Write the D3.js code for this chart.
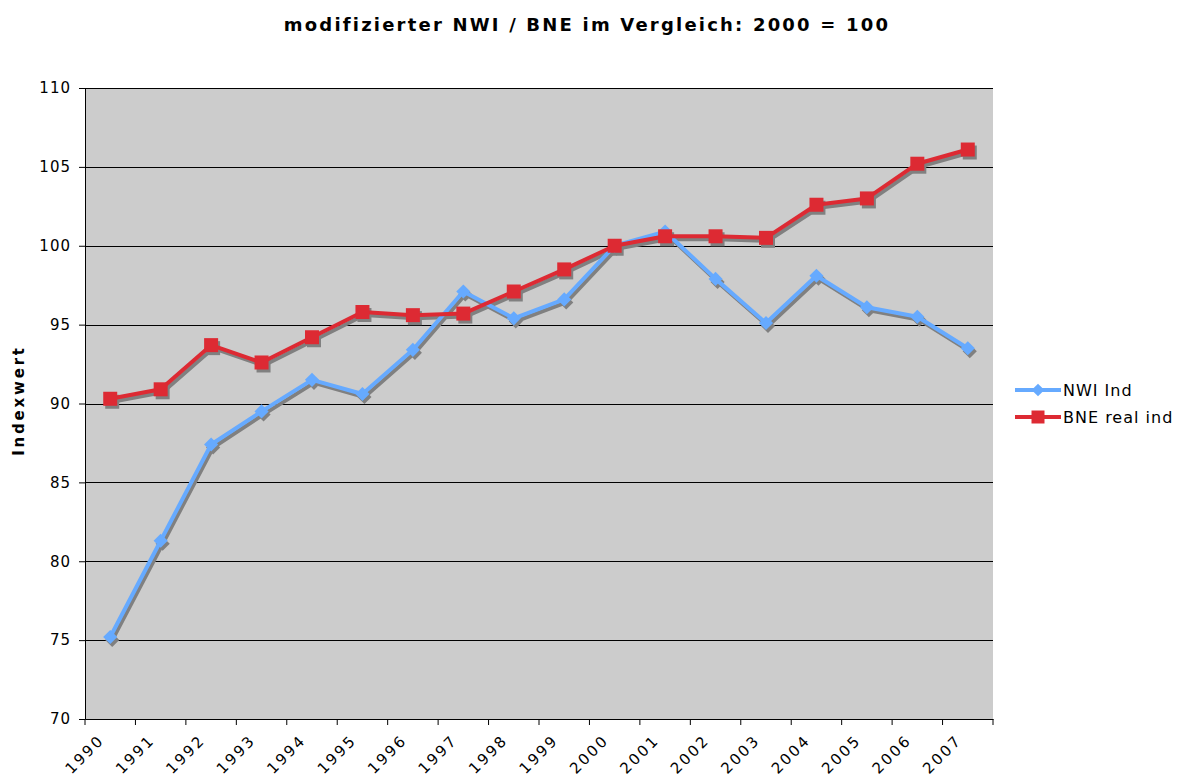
<!DOCTYPE html>
<html>
<head>
<meta charset="utf-8">
<script src="https://cdn.jsdelivr.net/npm/d3@7"></script>
<style>
  body { margin: 0; background: #fff; }
  text { font-family: "DejaVu Sans", Verdana, sans-serif; fill: #000; }
</style>
</head>
<body>
<svg id="chart" width="1179" height="778"></svg>
<script>
var years = ["1990","1991","1992","1993","1994","1995","1996","1997","1998","1999",
             "2000","2001","2002","2003","2004","2005","2006","2007"];
var nwiInd = [75.2, 81.3, 87.4, 89.5, 91.5, 90.6, 93.4, 97.1, 95.4, 96.6,
              100.0, 100.9, 97.9, 95.1, 98.1, 96.1, 95.5, 93.5];
var bneReal = [90.3, 90.9, 93.7, 92.6, 94.2, 95.8, 95.6, 95.7, 97.1, 98.5,
               100.0, 100.6, 100.6, 100.5, 102.6, 103.0, 105.2, 106.1];
var yTicks = [70, 75, 80, 85, 90, 95, 100, 105, 110];

var series = [
  {name: "NWI Ind", values: nwiInd, color: "#66aaff", shape: "diamond"},
  {name: "BNE real ind", values: bneReal, color: "#dd2a33", shape: "square"}
];

var svg = d3.select("#chart"),
    margin = {top: 88, right: 186, bottom: 59, left: 85},
    width = +svg.attr("width") - margin.left - margin.right,
    height = +svg.attr("height") - margin.top - margin.bottom,
    g = svg.append("g").attr("transform", "translate(" + margin.left + "," + margin.top + ")");

var x = d3.scaleBand().domain(years).range([0, width]);
var y = d3.scaleLinear().domain([70, 110]).range([height, 0]);

// plot background
g.append("rect")
  .attr("width", width)
  .attr("height", height)
  .attr("fill", "#cccccc");

// gridlines
g.selectAll(".grid")
  .data(yTicks.slice(1))
  .enter().append("line")
    .attr("x1", 0).attr("x2", width)
    .attr("y1", function(d) { return Math.round(y(d)) + 0.5; })
    .attr("y2", function(d) { return Math.round(y(d)) + 0.5; })
    .attr("stroke", "#000")
    .attr("stroke-width", 1);

// y axis
var yAxis = g.append("g")
  .attr("class", "axis axis--y")
  .call(d3.axisLeft(y).tickValues(yTicks).tickSize(6).tickPadding(8));
yAxis.select(".domain").attr("stroke", "#000");
yAxis.selectAll("text")
  .style("font-size", "15px")
  .style("letter-spacing", "1px");

// x axis, ticks at category boundaries
var xAxis = g.append("g")
  .attr("class", "axis axis--x")
  .attr("transform", "translate(0," + height + ")")
  .call(d3.axisBottom(x).tickSize(0).tickFormat(""));
xAxis.select(".domain").attr("stroke", "#000");

var edges = years.map(function(d) { return x(d); }).concat([width]);
xAxis.selectAll(".edge")
  .data(edges)
  .enter().append("line")
    .attr("x1", function(d) { return d; })
    .attr("x2", function(d) { return d; })
    .attr("y1", 0).attr("y2", 6)
    .attr("stroke", "#000");

xAxis.selectAll(".lbl")
  .data(years)
  .enter().append("text")
    .attr("text-anchor", "end")
    .attr("transform", function(d) {
      return "translate(" + (x(d) + x.bandwidth() / 2 - 5) + ",22) rotate(-45)";
    })
    .style("font-size", "15px")
    .style("letter-spacing", "2.4px")
    .text(function(d) { return d; });

// title
svg.append("text")
  .attr("x", 587)
  .attr("y", 31)
  .attr("text-anchor", "middle")
  .style("font-size", "18px")
  .style("font-weight", "bold")
  .style("letter-spacing", "2.2px")
  .text("modifizierter NWI / BNE im Vergleich: 2000 = 100");

// y label
svg.append("text")
  .attr("transform", "translate(24," + (margin.top + height / 2 - 3) + ") rotate(-90)")
  .attr("text-anchor", "middle")
  .style("font-size", "15px")
  .style("font-weight", "bold")
  .style("letter-spacing", "2.8px")
  .text("Indexwert");

var line = d3.line()
  .x(function(d, i) { return x(years[i]) + x.bandwidth() / 2; })
  .y(function(d) { return y(d); });

function drawSeries(s, dx, dy, color) {
  var grp = g.append("g").attr("transform", "translate(" + dx + "," + dy + ")");
  grp.append("path")
    .datum(s.values)
    .attr("fill", "none")
    .attr("stroke", color)
    .attr("stroke-width", 4)
    .attr("stroke-linejoin", "round")
    .attr("d", line);
  grp.selectAll(".pt")
    .data(s.values)
    .enter().append("path")
      .attr("d", d3.symbol().type(d3.symbolSquare).size(s.shape === "diamond" ? 100 : 196)())
      .attr("transform", function(d, i) {
        var t = "translate(" + (x(years[i]) + x.bandwidth() / 2) + "," + y(d) + ")";
        return s.shape === "diamond" ? t + " rotate(45)" : t;
      })
      .attr("fill", color);
}

// shadows first, then coloured series
series.forEach(function(s) { drawSeries(s, 2, 3, "#808080"); });
series.forEach(function(s) { drawSeries(s, 0, 0, s.color); });

// legend
var legend = svg.append("g").attr("transform", "translate(1015,390)");
series.forEach(function(s, i) {
  var row = legend.append("g").attr("transform", "translate(0," + (i * 27) + ")");
  row.append("line")
    .attr("x1", 0).attr("x2", 46)
    .attr("stroke", s.color)
    .attr("stroke-width", 4);
  row.append("path")
    .attr("d", d3.symbol().type(d3.symbolSquare).size(s.shape === "diamond" ? 81 : 169)())
    .attr("transform", "translate(23,0)" + (s.shape === "diamond" ? " rotate(45)" : ""))
    .attr("fill", s.color);
  row.append("text")
    .attr("x", 48)
    .attr("dy", "0.35em")
    .style("font-size", "16px")
    .style("letter-spacing", "1px")
    .text(s.name);
});
</script>
</body>
</html>
